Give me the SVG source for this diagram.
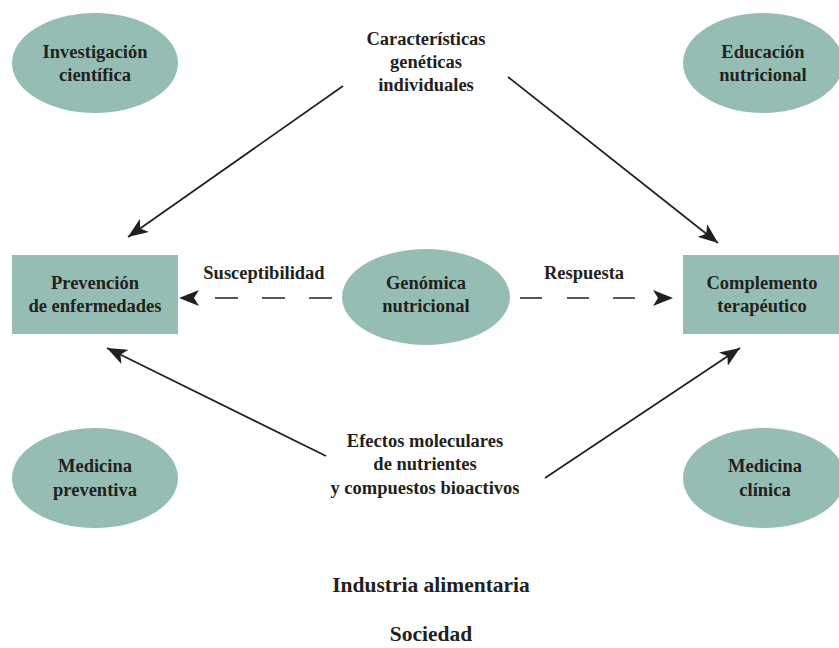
<svg xmlns="http://www.w3.org/2000/svg" width="839" height="648" viewBox="0 0 839 648">
<style>
.n{fill:#96bdb3;stroke:none}
text{font-family:"Liberation Serif","Times New Roman",serif;font-weight:bold;fill:#231f20;text-anchor:middle;font-size:18.5px}
.big{font-size:21.5px}
.c{stroke:#231f20;stroke-width:1.7;fill:none}
</style>
<defs>
<marker id="ah" viewBox="0 0 20 16" refX="20" refY="8" markerWidth="20" markerHeight="16" markerUnits="userSpaceOnUse" orient="auto">
<path d="M0,0 L20,8 L0,16 L5,8 z" fill="#231f20"/>
</marker>
</defs>
<g id="investigacion"><ellipse class="n" cx="95" cy="63" rx="83" ry="50"/><text x="95" y="58">Investigación</text><text x="95" y="81">científica</text></g>
<g id="educacion"><ellipse class="n" cx="763" cy="63" rx="80" ry="50"/><text x="763" y="58">Educación</text><text x="763" y="81">nutricional</text></g>
<g id="caracteristicas"><text x="426" y="45">Características</text><text x="426" y="68">genéticas</text><text x="426" y="91">individuales</text></g>
<g id="prevencion"><rect class="n" x="12" y="255" width="166" height="79"/><text x="95" y="289">Prevención</text><text x="95" y="312">de enfermedades</text></g>
<g id="genomica"><ellipse class="n" cx="426" cy="297" rx="84" ry="48"/><text x="426" y="289">Genómica</text><text x="426" y="312">nutricional</text></g>
<g id="complemento"><rect class="n" x="683" y="255" width="160" height="79"/><text x="762" y="289">Complemento</text><text x="762" y="312">terapéutico</text></g>
<g id="medprev"><ellipse class="n" cx="95" cy="478" rx="83" ry="50"/><text x="95" y="472">Medicina</text><text x="95" y="496">preventiva</text></g>
<g id="medclin"><ellipse class="n" cx="764" cy="478" rx="81" ry="50"/><text x="765" y="472">Medicina</text><text x="765" y="496">clínica</text></g>
<g id="efectos"><text x="425" y="447">Efectos moleculares</text><text x="425" y="470">de nutrientes</text><text x="425" y="494">y compuestos bioactivos</text></g>
<g id="industria"><text class="big" x="431" y="592">Industria alimentaria</text></g>
<g id="sociedad"><text class="big" x="431" y="641">Sociedad</text></g>
<g id="connectors">
<line class="c" x1="343" y1="86" x2="128" y2="237" marker-end="url(#ah)"/>
<line class="c" x1="508" y1="77" x2="718" y2="243" marker-end="url(#ah)"/>
<line class="c" x1="326" y1="456" x2="107" y2="348" marker-end="url(#ah)"/>
<line class="c" x1="545" y1="478" x2="740" y2="348" marker-end="url(#ah)"/>
<line class="c" x1="332" y1="298" x2="179" y2="298" stroke-dasharray="23 24 23 24 23 200" marker-end="url(#ah)"/>
<line class="c" x1="520" y1="298" x2="673" y2="298" stroke-dasharray="22 25 22 24 22 200" marker-end="url(#ah)"/>
<text x="264" y="279">Susceptibilidad</text>
<text x="584" y="279">Respuesta</text>
</g>
</svg>
